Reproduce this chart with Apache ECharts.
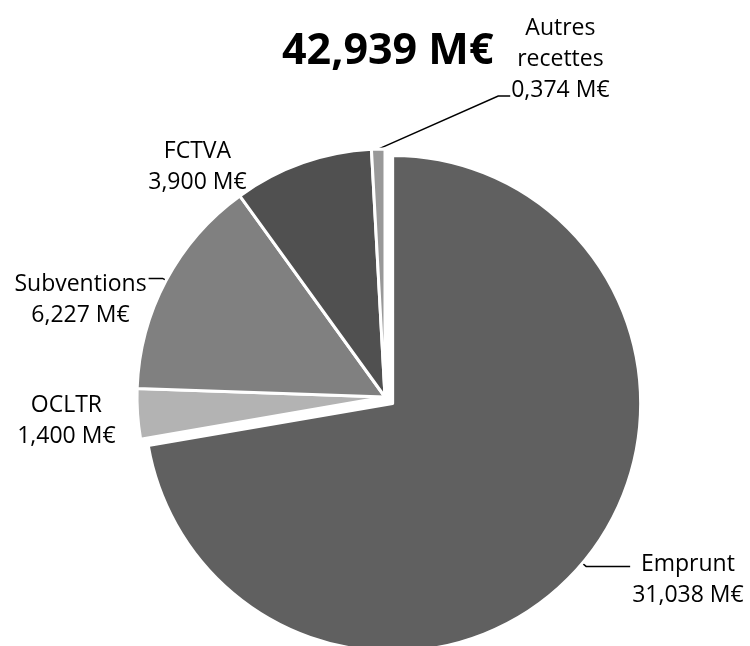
<!DOCTYPE html>
<html>
<head>
<meta charset="utf-8">
<script src="https://cdn.jsdelivr.net/npm/echarts@6/dist/echarts.min.js"></script>
<style>
  html, body { margin: 0; padding: 0; background: #fff; }
  #chart { width: 750px; height: 646px; }
</style>
</head>
<body>
<div id="chart"></div>
<script>
// données du graphique
const categories = ['Emprunt', 'OCLTR', 'Subventions', 'FCTVA', 'Autres recettes'];
const labelNames = ['Emprunt', 'OCLTR', 'Subventions', 'FCTVA', 'Autres\nrecettes'];
const values = [31.038, 1.400, 6.227, 3.900, 0.374];
const colors = ['#606060', '#b3b3b3', '#808080', '#505050', '#999999'];

const FONT = '"Open Sans", "Noto Sans", sans-serif';

function euros(v) {
    return v.toFixed(3).replace('.', ',') + ' M€';
}

const total = values.reduce((a, b) => a + b, 0);

// réglages des étiquettes par part
const labelSetup = [
    { length: 5, length2: 44, pad: [28, 0, 0, 0], line: true },
    { length: 3, length2: 17, pad: [14, 0, 0, 0], line: false },
    { length: 4, length2: 14, pad: [44, 0, 0, 0], line: true },
    { length: 5, length2: 52, pad: [16, 0, 0, 0], line: false },
    { length: 5, length2: 10, pad: [0, 0, 0, 0], line: true }
];

const chart = echarts.init(document.getElementById('chart'));

chart.setOption({
    animation: false,
    backgroundColor: '#fff',
    title: {
        text: euros(total),
        left: 282,
        top: 27,
        padding: 0,
        textStyle: {
            fontFamily: FONT,
            fontWeight: 'bold',
            fontSize: 43,
            lineHeight: 50,
            color: '#000'
        }
    },
    series: [{
        type: 'pie',
        center: [385, 397],
        radius: 248,
        startAngle: 90,
        clockwise: true,
        avoidLabelOverlap: false,
        selectedMode: 'single',
        selectedOffset: 10,
        emphasis: { disabled: true },
        itemStyle: { borderColor: '#fff', borderWidth: 3 },
        label: {
            show: true,
            position: 'outside',
            distanceToLabelLine: 2,
            formatter: function (p) {
                const lines = labelNames[p.dataIndex].split('\n').concat([euros(p.value)]);
                return lines.map(l => '{c|' + l + '}').join('\n');
            },
            rich: {
                c: {
                    fontFamily: FONT,
                    fontSize: 23,
                    lineHeight: 31,
                    color: '#000',
                    align: 'center'
                }
            }
        },
        labelLine: {
            show: true,
            lineStyle: { color: '#000', width: 1.5 }
        },
        labelLayout: function (params) {
            if (params.dataIndex !== 4) return {};
            // "Autres recettes" : étiquette placée à droite
            const p0 = params.labelLinePoints[0];
            const p1 = [p0[0] + 120, p0[1] - 53];
            const p2 = [p1[0] + 12, p1[1]];
            return {
                x: p2[0] + params.labelRect.width / 2 + 1,
                y: p2[1] - 37,
                align: 'center',
                verticalAlign: 'middle',
                labelLinePoints: [p0, p1, p2]
            };
        },
        data: categories.map((name, i) => ({
            name: name,
            value: values[i],
            selected: i === 0,
            itemStyle: { color: colors[i] },
            select: { itemStyle: { color: colors[i], borderColor: '#fff', borderWidth: 3 } },
            label: { padding: labelSetup[i].pad },
            labelLine: {
                show: labelSetup[i].line,
                length: labelSetup[i].length,
                length2: labelSetup[i].length2
            }
        }))
    }]
});
</script>
</body>
</html>
